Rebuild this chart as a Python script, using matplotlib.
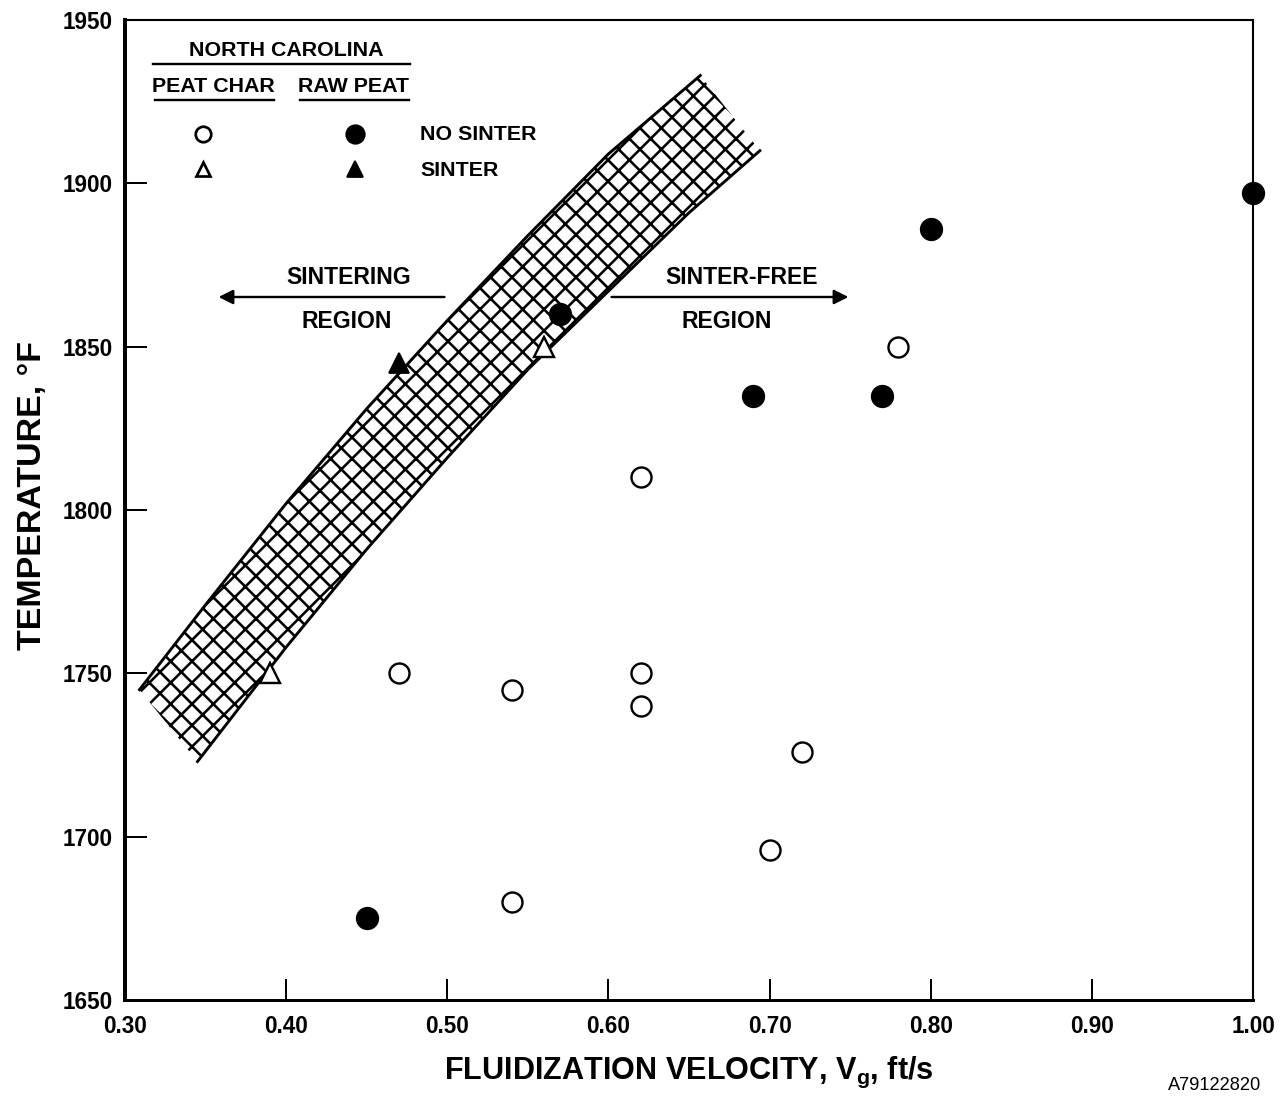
import matplotlib
matplotlib.use("Agg")
import matplotlib.pyplot as plt
from matplotlib import font_manager

# pick a narrow lettering-like font if there is one
names = {f.name for f in font_manager.fontManager.ttflist}
font = "DejaVu Sans"
for cand in ["Liberation Sans Narrow", "DejaVu Sans Condensed", "Liberation Sans"]:
    if cand in names:
        font = cand
        break
plt.rcParams['font.family'] = [font, 'DejaVu Sans']

# dpi picked so the hatch grid spacing matches the original
dpi = 128


def px(v):
    # pixel size -> points
    return v * 72 / dpi


plt.rcParams['hatch.linewidth'] = px(2.6)

# data
char_nosinter_v = [0.47, 0.54, 0.54, 0.62, 0.62, 0.62, 0.70, 0.72, 0.78]
char_nosinter_t = [1750, 1745, 1680, 1810, 1750, 1740, 1696, 1726, 1850]
raw_nosinter_v = [0.45, 0.57, 0.69, 0.77, 0.80, 1.00]
raw_nosinter_t = [1675, 1860, 1835, 1835, 1886, 1897]
char_sinter_v = [0.39, 0.56]
char_sinter_t = [1750, 1850]
raw_sinter_v = [0.47]
raw_sinter_t = [1845]

# sintering band edges
band_left_v = [0.309, 0.35, 0.40, 0.45, 0.50, 0.55, 0.60, 0.657]
band_left_t = [1745, 1771, 1802, 1831, 1858, 1884, 1909, 1933]
band_right_v = [0.345, 0.40, 0.45, 0.50, 0.55, 0.60, 0.65, 0.694]
band_right_t = [1723, 1758, 1788, 1816, 1843, 1867, 1891, 1910]

x_ticks = [0.30, 0.40, 0.50, 0.60, 0.70, 0.80, 0.90, 1.00]
y_ticks = [1650, 1700, 1750, 1800, 1850, 1900, 1950]

fig = plt.figure(figsize=(1286 / dpi, 1099 / dpi), dpi=dpi)
ax = fig.add_axes([125 / 1286, 1 - 1000 / 1099, 1128 / 1286, 980 / 1099])

# hatched band
poly_v = band_left_v + band_right_v[::-1]
poly_t = band_left_t + band_right_t[::-1]
ax.fill(poly_v, poly_t, facecolor='white', edgecolor='black', linewidth=0, hatch='xx', zorder=1)
ax.plot(band_left_v, band_left_t, color='black', lw=px(2.9), zorder=2)
ax.plot(band_right_v, band_right_t, color='black', lw=px(2.9), zorder=2)

# points
ax.plot(char_nosinter_v, char_nosinter_t, 'o', ms=px(20), mfc='white', mec='black', mew=px(2.4), ls='none', zorder=3)
ax.plot(raw_nosinter_v, raw_nosinter_t, 'o', ms=px(21.5), mfc='black', mec='black', ls='none', zorder=3, clip_on=False)
ax.plot(char_sinter_v, char_sinter_t, '^', ms=px(20), mfc='white', mec='black', mew=px(2.4), ls='none', zorder=3)
ax.plot(raw_sinter_v, raw_sinter_t, '^', ms=px(20), mfc='black', mec='black', ls='none', zorder=3)

ax.set_xlim(0.30, 1.00)
ax.set_ylim(1650, 1950)
ax.set_xticks(x_ticks)
ax.set_xticklabels([f"{v:.2f}" for v in x_ticks])
ax.set_yticks(y_ticks)
ax.tick_params(direction='in', length=px(21.5), width=px(2), labelsize=px(22.5))
ax.tick_params(axis='x', pad=px(15))
ax.tick_params(axis='y', pad=px(12))
for lab in ax.get_xticklabels() + ax.get_yticklabels():
    lab.set_fontweight('bold')
ax.spines['left'].set_linewidth(px(4))
ax.spines['bottom'].set_linewidth(px(3))
ax.spines['top'].set_linewidth(px(2.1))
ax.spines['right'].set_linewidth(px(2.1))

ax.set_xlabel("FLUIDIZATION VELOCITY, V$_{\\mathregular{g}}$, ft/s", fontsize=px(30.6),
              fontweight='bold', labelpad=px(17))
ax.set_ylabel("TEMPERATURE, °F", fontsize=px(34), fontweight='bold')
ax.yaxis.set_label_coords(-0.068, 0.515)

# legend block, axes fraction coords
def af(x, y):
    return (x - 125) / 1128, (1000 - y) / 980

tk = dict(transform=ax.transAxes, fontsize=px(21.4), fontweight='bold', va='center')
ax.text(*af(286, 51), "NORTH CAROLINA", ha='center', **tk)
ax.plot([af(153, 0)[0], af(410, 0)[0]], [af(0, 64)[1]] * 2, color='black', lw=px(2.4), transform=ax.transAxes)
ax.text(*af(213, 86), "PEAT CHAR", ha='center', **tk)
ax.text(*af(354, 86), "RAW PEAT", ha='center', **tk)
ax.plot([af(155, 0)[0], af(274, 0)[0]], [af(0, 100)[1]] * 2, color='black', lw=px(2.4), transform=ax.transAxes)
ax.plot([af(300, 0)[0], af(409, 0)[0]], [af(0, 100)[1]] * 2, color='black', lw=px(2.4), transform=ax.transAxes)
ax.plot(*af(203, 134), 'o', ms=px(15.5), mfc='white', mec='black', mew=px(2.7), transform=ax.transAxes)
ax.plot(*af(355, 134), 'o', ms=px(18.5), mfc='black', mec='black', transform=ax.transAxes)
ax.plot(*af(203, 169), '^', ms=px(14), mfc='white', mec='black', mew=px(2.7), transform=ax.transAxes)
ax.plot(*af(355, 169), '^', ms=px(15.5), mfc='black', mec='black', transform=ax.transAxes)
ax.text(*af(420, 134), "NO SINTER", ha='left', **tk)
ax.text(*af(420, 170), "SINTER", ha='left', **tk)

# region notes with arrows
rk = dict(transform=ax.transAxes, fontsize=px(23), fontweight='bold', ha='center', va='center')
ax.text(*af(349, 278), "SINTERING", **rk)
ax.text(*af(347, 322), "REGION", **rk)
ax.text(*af(742, 278), "SINTER-FREE", **rk)
ax.text(*af(727, 322), "REGION", **rk)
ax.annotate("", xy=af(215, 297), xytext=af(448, 297), xycoords='axes fraction',
            arrowprops=dict(arrowstyle='-|>', color='black', lw=px(2.4), mutation_scale=px(30)))
ax.annotate("", xy=af(852, 297), xytext=af(608, 297), xycoords='axes fraction',
            arrowprops=dict(arrowstyle='-|>', color='black', lw=px(2.4), mutation_scale=px(30)))

fig.text(1215 / 1286, 1 - 1085 / 1099, "A79122820", ha='center', va='center', fontsize=px(18.3))

fig.savefig("out.png", dpi=dpi)
